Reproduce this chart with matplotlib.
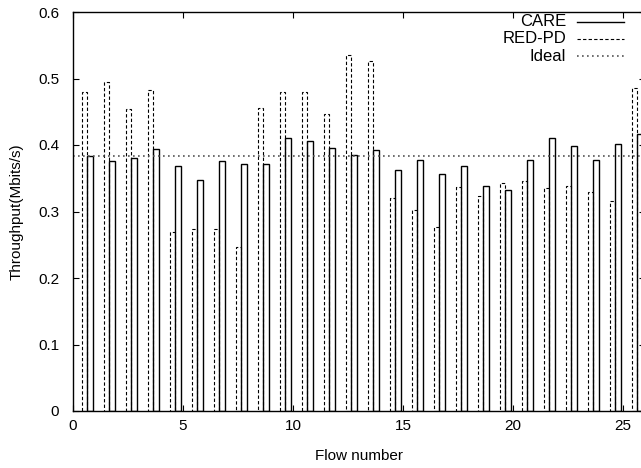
import matplotlib
matplotlib.use("Agg")
import matplotlib.pyplot as plt
import numpy as np

plt.rcParams['font.family'] = ['Liberation Sans', 'DejaVu Sans']

flows = list(range(1, 27))
red_pd = [0.479, 0.494, 0.454, 0.483, 0.269, 0.273, 0.273, 0.247, 0.456, 0.480,
          0.479, 0.446, 0.536, 0.526, 0.321, 0.303, 0.277, 0.337, 0.324, 0.343,
          0.346, 0.336, 0.338, 0.330, 0.316, 0.485]
care = [0.384, 0.376, 0.381, 0.394, 0.368, 0.348, 0.376, 0.371, 0.372, 0.410,
        0.406, 0.395, 0.385, 0.392, 0.362, 0.377, 0.356, 0.369, 0.339, 0.333,
        0.378, 0.410, 0.399, 0.377, 0.402, 0.416]
ideal = 0.384
xticks = [0, 5, 10, 15, 20, 25]
yticks = [0, 0.1, 0.2, 0.3, 0.4, 0.5, 0.6]
ytick_labels = ["0", "0.1", "0.2", "0.3", "0.4", "0.5", "0.6"]

fig = plt.figure(figsize=(6.41, 4.68), dpi=100)
ax = fig.add_axes([73/641, 57/468, 572/641, 399/468])

x = np.array(flows) - 1
w = 0.26
ax.bar(x + 0.52, red_pd, width=w, fill=False, edgecolor='black',
       linewidth=0.8, linestyle=(0, (3, 2)))
ax.bar(x + 0.785, care, width=w, fill=False, edgecolor='black', linewidth=1.0)
ax.axhline(ideal, color='#555555', linewidth=1.2, linestyle=(0, (1, 2)))

ax.set_xlim(0, 26)
ax.set_ylim(0, 0.6)
ax.set_xticks(xticks)
ax.set_yticks(yticks)
ax.set_yticklabels(ytick_labels)
ax.tick_params(direction='in', length=4, width=0.8, top=True, right=True,
               labelsize=11)
ax.tick_params(axis='y', pad=10)
ax.tick_params(axis='x', pad=5.5)
for s in ax.spines.values():
    s.set_linewidth(1.0)

ax.set_xlabel("Flow number", fontsize=11, labelpad=12)
ax.set_ylabel("Throughput(Mbits/s)", fontsize=11, labelpad=10.5)

# legend (gnuplot-style, text right-aligned)
entries = [("CARE", '-', 1.0), ("RED-PD", (0, (3, 2)), 0.8), ("Ideal", (0, (1, 2)), 1.2)]
ys = [0.9757, 0.9331, 0.8897]
for (lab, ls, lw), yy in zip(entries, ys):
    ax.text(0.862, yy, lab, transform=ax.transAxes, ha='right', va='center', fontsize=12)
    ax.plot([0.881, 0.963], [yy, yy], transform=ax.transAxes, color='black' if lab != "Ideal" else '#555555',
            linestyle=ls, linewidth=lw, clip_on=False)

fig.savefig("out.png", dpi=100)
